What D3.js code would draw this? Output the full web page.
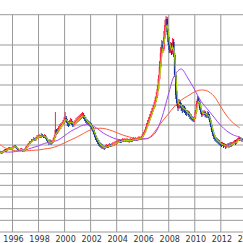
<!DOCTYPE html>
<html><head><meta charset="utf-8">
<script src="https://cdn.jsdelivr.net/npm/d3@7"></script>
<style>html,body{margin:0;padding:0;background:#fff;overflow:hidden}</style>
</head><body><svg id="c" width="243" height="243"></svg>
<script>
// monthly candles starting Feb 1995
const startYear = 1995, startMonth = 2;
const close = [
 65,60,65,70,75,70,75,80,85,80,85,
 85,90,95,90,85,80,75,75,80,75,70,75,
 80,90,95,105,110,115,120,125,130,125,135,140,
 140,145,140,150,145,140,145,135,125,115,110,120,
 110,115,125,140,175,160,170,185,190,200,205,215,
 225,235,220,210,205,215,220,210,200,205,215,220,
 225,230,235,240,245,250,240,230,220,215,210,205,
 200,190,180,165,150,135,125,115,105,100,95,90,
 90,85,90,95,90,95,100,95,100,105,105,110,
 110,115,115,120,115,120,125,120,125,120,125,120,
 120,125,120,125,130,125,130,125,130,135,130,135,
 145,155,165,180,195,210,225,240,255,270,285,300,
 325,345,380,430,490,560,600,580,640,700,730,665,
 615,575,590,565,615,550,450,350,310,285,315,300,
 285,275,290,275,265,260,265,250,245,235,230,225,
 235,265,305,330,315,285,265,250,260,265,250,245,
 255,245,225,200,175,155,140,130,125,120,115,110,
 105,100,105,95,100,90,95,100,95,105,100,105,
 110,115,110,120,125,135,125,130,125
];
const high = [
 70,70,70,75,80,80,80,85,90,90,90,
 90,95,100,100,95,90,85,80,85,85,80,80,
 85,95,100,110,120,120,130,130,140,135,140,150,
 150,155,150,160,155,150,155,150,140,130,125,130,
 125,120,135,150,265,180,185,195,205,210,215,225,
 240,265,245,230,220,225,235,230,220,215,225,235,
 240,245,250,255,260,265,260,250,240,230,225,220,
 215,210,200,190,175,160,145,135,125,115,110,105,
 100,95,100,105,100,105,110,105,110,115,115,120,
 120,125,125,130,125,130,135,130,135,130,135,130,
 130,135,130,135,140,135,140,135,140,145,140,145,
 155,165,175,190,210,225,240,255,270,285,300,315,
 340,365,400,450,520,590,625,620,670,725,745,740,
 680,640,615,610,635,630,560,460,370,330,330,325,
 310,300,300,295,285,275,275,270,260,255,245,240,
 245,275,320,345,340,320,295,275,270,275,270,260,
 270,265,255,235,210,185,165,150,140,135,130,125,
 115,115,115,110,110,105,105,110,110,115,115,115,
 120,125,125,130,135,145,140,140,135
];
const low = [
 60,55,55,60,65,65,65,70,75,75,75,
 80,80,85,85,80,75,70,70,70,70,65,65,
 70,75,85,90,100,105,110,115,120,120,120,130,
 130,135,135,135,140,135,135,130,120,110,100,105,
 100,105,110,120,135,150,155,165,175,180,190,200,
 205,215,210,195,190,195,205,200,190,190,200,205,
 210,215,220,225,230,235,230,220,210,205,200,195,
 190,180,170,155,140,125,115,105,95,90,85,80,
 80,75,80,85,85,85,90,90,90,95,95,100,
 100,105,110,110,110,110,115,115,115,115,115,115,
 110,115,115,115,120,120,120,120,120,125,125,125,
 130,140,150,160,175,190,205,220,235,250,265,280,
 290,315,335,370,420,480,540,560,570,630,690,650,
 600,560,560,550,555,540,440,330,295,270,280,285,
 270,260,265,260,250,245,250,240,230,225,220,215,
 215,230,255,295,305,275,255,240,245,250,240,235,
 235,235,215,190,165,145,130,120,115,110,105,100,
 95,90,95,85,90,80,85,90,85,90,90,95,
 100,105,100,105,115,120,120,120,115
];
// half-yearly readings of the two long moving averages, from 1995.0
const maStart = 1995;
const maMid = [70,65,65,70,75,85,95,108,115,123,145,168,185,200,200,185,160,143,130,125,125,125,130,135,160,235,350,450,480,435,380,320,280,240,200,170,150,140];
const maLong = [105,85,75,70,70,73,75,80,85,95,110,125,140,158,175,183,183,175,163,150,140,133,130,135,170,215,255,295,325,345,365,375,370,345,295,245,210,185];
const yearTicks = [1996,1998,2000,2002,2004,2006,2008,2010,2012,2014];
const priceGrid = [100,200,300,400,500,600];
const lowerGrid = [1,2,3,4,5];

const W = 243;
const yTop = 14.7, yMid = 162, yBottom = 232;
const x = d3.scaleLinear().domain([1995, 2014]).range([-1.02, 246.36]);
const y = d3.scaleLinear().domain([15, 751.5]).range([yMid, yTop]);
const y2 = d3.scaleLinear().domain([0, 6]).range([yBottom, yMid]);

const svg = d3.select("#c");
svg.append("rect").attr("width", W).attr("height", 243).attr("fill", "#fff");

const gridColor = "#9a9a9a";
// horizontal grid
const hLines = priceGrid.map(v => y(v)).concat([yTop, yMid], lowerGrid.map(v => y2(v)), [yBottom]);
svg.append("g").selectAll("line").data(hLines).join("line")
  .attr("x1", 0).attr("x2", W).attr("y1", d => d).attr("y2", d => d)
  .attr("stroke", gridColor).attr("stroke-width", 1);

// vertical grid + year labels via axis
const ax = svg.append("g").attr("transform", `translate(0,${yBottom})`)
  .call(d3.axisBottom(x).tickValues(yearTicks).tickSize(-(yBottom - yTop)).tickFormat(d3.format("d")));
ax.select(".domain").remove();
ax.selectAll("line").attr("stroke", gridColor).attr("stroke-width", 1);
ax.selectAll("text").attr("y", 9.5).attr("dy", 0).attr("dx", 1)
  .attr("font-family", "DejaVu Sans, sans-serif").attr("font-size", 8).attr("fill", "#333");

// candles
const data = close.map((c, i) => ({
  t: startYear + (startMonth - 1 + i) / 12,
  o: i === 0 ? c : close[i - 1], c, h: high[i], l: low[i]
}));
const up = "#ff2048", down = "#0c2f9c";
const cg = svg.append("g");
cg.selectAll("line").data(data).join("line")
  .attr("x1", d => x(d.t)).attr("x2", d => x(d.t))
  .attr("y1", d => y(d.h)).attr("y2", d => y(d.l))
  .attr("stroke", d => d.c >= d.o ? up : down).attr("stroke-width", 1);
cg.selectAll("rect").data(data).join("rect")
  .attr("x", d => x(d.t) - 0.85).attr("width", 1.7)
  .attr("y", d => y(Math.max(d.o, d.c)))
  .attr("height", d => Math.max(1, Math.abs(y(d.o) - y(d.c))))
  .attr("fill", d => d.c >= d.o ? up : down);

// moving averages
const maPts = arr => arr.map((v, k) => ({ t: maStart + k * 0.5, v }));
const line = d3.line().x(d => x(d.t)).y(d => y(d.v)).curve(d3.curveCatmullRom);
svg.append("path").datum(maPts(maLong)).attr("d", line)
  .attr("fill", "none").attr("stroke", "#ff5a36").attr("stroke-width", 1);
svg.append("path").datum(maPts(maMid)).attr("d", line)
  .attr("fill", "none").attr("stroke", "#a546f5").attr("stroke-width", 1);
const shortMA = data.map((d, i) => ({ t: d.t, v: d3.mean(close.slice(Math.max(0, i - 2), i + 1)) }));
svg.append("path").datum(shortMA).attr("d", d3.line().x(d => x(d.t)).y(d => y(d.v)))
  .attr("fill", "none").attr("stroke", "#a8d400").attr("stroke-width", 1.1);
</script></body></html>
